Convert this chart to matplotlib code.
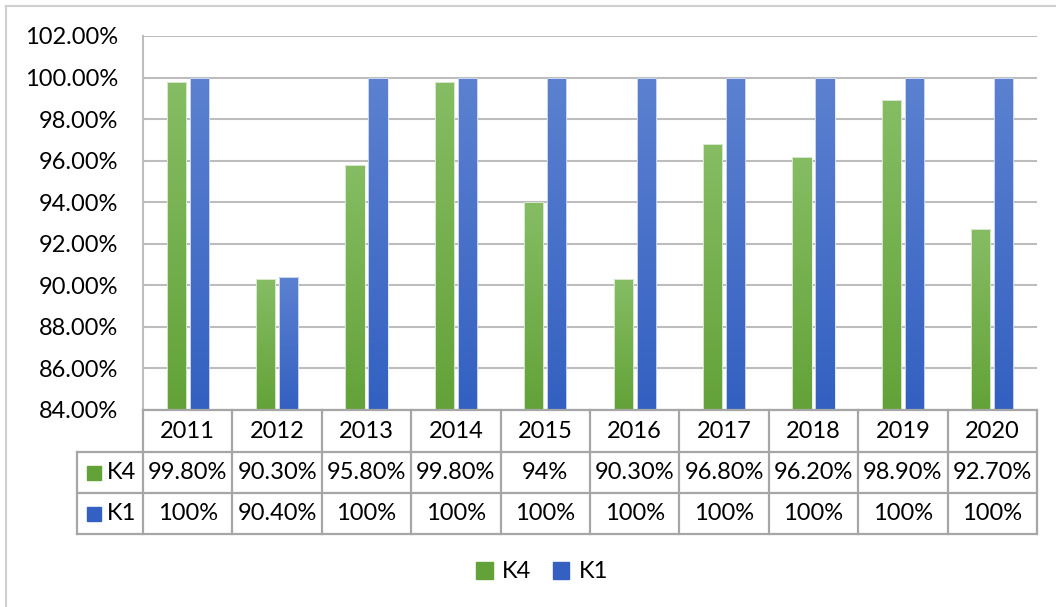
import matplotlib.pyplot as plt
import numpy as np
from matplotlib.colors import LinearSegmentedColormap
from matplotlib.patches import Rectangle, Patch

plt.rcParams['font.family'] = ['Lato', 'DejaVu Sans']

years = ['2011', '2012', '2013', '2014', '2015', '2016', '2017', '2018', '2019', '2020']
k4 = [99.8, 90.3, 95.8, 99.8, 94.0, 90.3, 96.8, 96.2, 98.9, 92.7]
k1 = [100.0, 90.4, 100.0, 100.0, 100.0, 100.0, 100.0, 100.0, 100.0, 100.0]
k4_labels = ['99.80%', '90.30%', '95.80%', '99.80%', '94%', '90.30%', '96.80%', '96.20%', '98.90%', '92.70%']
k1_labels = ['100%', '90.40%', '100%', '100%', '100%', '100%', '100%', '100%', '100%', '100%']

green = ('#86bd64', '#63a238')
blue = ('#5c81d0', '#3360c1')
grid_c = '#bdbdbd'
tab_c = '#a6a6a6'
fs = 17

W, H = 1056, 607
fig = plt.figure(figsize=(W / 100, H / 100), dpi=100)

# plot area in pixel units
L, R, T, B = 143, 1037, 36, 410
ax = fig.add_axes([L / W, 1 - B / H, (R - L) / W, (B - T) / H])
ax.set_xlim(-0.5, len(years) - 0.5)
ax.set_ylim(84, 102)
ax.set_yticks(np.arange(84, 103, 2))
ax.set_yticklabels(['%.2f%%' % v for v in np.arange(84, 103, 2)], fontsize=fs)
ax.set_xticks([])
ax.tick_params(axis='y', length=0, pad=18)
for s in ['top', 'right', 'bottom']:
    ax.spines[s].set_visible(False)
ax.spines['left'].set_color(grid_c)
ax.spines['left'].set_linewidth(1.5)
ax.yaxis.grid(True, color=grid_c, linewidth=1.5)
ax.set_axisbelow(True)

x = np.arange(len(years))
w = 0.215
bars_g = ax.bar(x - 0.128, k4, w, edgecolor='#e8f0e0', linewidth=0.6)
bars_b = ax.bar(x + 0.128, k1, w, edgecolor='#e0e6f4', linewidth=0.6)


def shade(bars, cols):
    cmap = LinearSegmentedColormap.from_list('g', [cols[1], cols[0]])
    grad = np.linspace(0, 1, 256).reshape(-1, 1)
    y0 = ax.get_ylim()[0]
    for p in bars:
        x0 = p.get_x()
        im = ax.imshow(grad, cmap=cmap, origin='lower', aspect='auto',
                       extent=(x0, x0 + p.get_width(), y0, p.get_height()), zorder=2)
        im.set_clip_path(p)
        p.set_facecolor('none')
        p.set_zorder(3)


shade(bars_g, green)
shade(bars_b, blue)
ax.set_xlim(-0.5, len(years) - 0.5)
ax.set_ylim(84, 102)

# data table under the plot area
ov = fig.add_axes([0, 0, 1, 1])
ov.set_xlim(0, W)
ov.set_ylim(H, 0)
ov.axis('off')
ov.patch.set_alpha(0)

rows = [410, 452, 493, 534]
tl = 77
cw = (R - L) / len(years)
lw = 1.6
ov.plot([L, R], [rows[0]] * 2, color=tab_c, lw=lw)
for yy in rows[1:]:
    ov.plot([tl, R], [yy] * 2, color=tab_c, lw=lw)
ov.plot([tl, tl], [rows[1], rows[3]], color=tab_c, lw=lw)
for i in range(len(years) + 1):
    ov.plot([L + i * cw] * 2, [rows[0], rows[3]], color=tab_c, lw=lw)

for i, yr in enumerate(years):
    cx = L + (i + 0.5) * cw
    ov.text(cx, (rows[0] + rows[1]) / 2, yr, ha='center', va='center', fontsize=fs)
    ov.text(cx, (rows[1] + rows[2]) / 2, k4_labels[i], ha='center', va='center', fontsize=fs)
    ov.text(cx, (rows[2] + rows[3]) / 2, k1_labels[i], ha='center', va='center', fontsize=fs)

for name, cols, r in [('K4', green, 1), ('K1', blue, 2)]:
    cy = (rows[r] + rows[r + 1]) / 2
    ov.add_patch(Rectangle((87, cy - 7), 14, 14, color=cols[1]))
    ov.text(107, cy, name, ha='left', va='center', fontsize=fs)

# outer chart border
ov.plot([6, 6], [H, 6], color='#d0d0d0', lw=1.5)
ov.plot([6, W], [6, 6], color='#d0d0d0', lw=1.5)

handles = [Patch(color=green[1], label='K4'), Patch(color=blue[1], label='K1')]
fig.legend(handles=handles, loc='center', bbox_to_anchor=(542 / W, 1 - 572 / H), ncol=2,
           frameon=False, fontsize=fs, handlelength=0.7, handleheight=0.7,
           handletextpad=0.4, columnspacing=0.9)

fig.savefig('out.png', dpi=100)
